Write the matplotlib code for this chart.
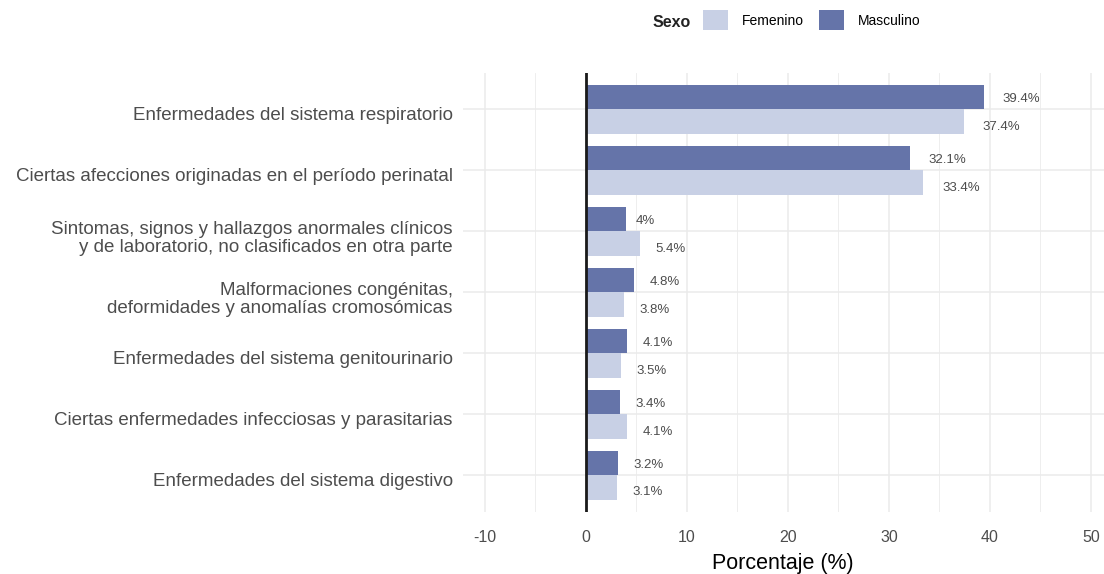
import matplotlib.pyplot as plt
from matplotlib.patches import Patch
import matplotlib.transforms as mtransforms
import numpy as np

plt.rcParams['font.family'] = ['Liberation Sans', 'DejaVu Sans']
plt.rcParams['axes.unicode_minus'] = False

# categories from bottom to top
causas = [
    'Enfermedades del sistema digestivo',
    'Ciertas enfermedades infecciosas y parasitarias',
    'Enfermedades del sistema genitourinario',
    'Malformaciones congénitas,\ndeformidades y anomalías cromosómicas',
    'Sintomas, signos y hallazgos anormales clínicos\ny de laboratorio, no clasificados en otra parte',
    'Ciertas afecciones originadas en el período perinatal',
    'Enfermedades del sistema respiratorio',
]
femenino = [3.1, 4.1, 3.5, 3.8, 5.4, 33.4, 37.4]
masculino = [3.2, 3.4, 4.1, 4.8, 4.0, 32.1, 39.4]

col_fem = '#C8D0E5'
col_mas = '#6574A9'
grid_col = '#EBEBEB'
txt_col = '#4D4D4D'

fig = plt.figure(figsize=(11.04, 5.74), dpi=100)
ax = fig.add_axes([0.419, 0.108, 0.581, 0.765])

y = np.arange(len(causas))
h = 0.4
ax.barh(y + h / 2, masculino, height=h, color=col_mas, zorder=2)
ax.barh(y - h / 2, femenino, height=h, color=col_fem, zorder=2)

def fmt(v):
    return f'{v:g}%'

labels = []
for yi, m, f in zip(y, masculino, femenino):
    labels.append(ax.text(m, yi + h / 2 - 0.03, fmt(m), ha='left', va='center',
                          fontsize=9.5, color=txt_col))
    labels.append(ax.text(f, yi - h / 2 - 0.08, fmt(f), ha='left', va='center',
                          fontsize=9.5, color=txt_col))

ax.axvline(0, color='#1a1a1a', lw=2, zorder=3)

ax.set_xlim(-12.2, 51.3)
ax.set_ylim(-0.6, len(causas) - 0.4)
ax.set_xticks([-10, 0, 10, 20, 30, 40, 50])
ax.set_xticks([-5, 5, 15, 25, 35, 45], minor=True)
ax.set_yticks(y)
ax.set_yticklabels(causas, ha='right', multialignment='right', linespacing=1.1)
ax.grid(which='major', axis='both', color=grid_col, lw=1.1, zorder=0)
ax.grid(which='minor', axis='x', color=grid_col, lw=0.6, zorder=0)
ax.tick_params(which='both', length=0, labelcolor=txt_col)
ax.tick_params(axis='x', labelsize=11.5, pad=13)
ax.tick_params(axis='y', labelsize=13.5, pad=7)
for s in ax.spines.values():
    s.set_visible(False)
ax.set_xlabel('Porcentaje (%)', fontsize=15.5, color='black', labelpad=6)

# y labels sit a little below the category centre
shift = mtransforms.ScaledTranslation(0, -3 / 72, fig.dpi_scale_trans)
for t in ax.get_yticklabels():
    t.set_transform(t.get_transform() + shift)

handles = [Patch(facecolor=col_fem, edgecolor='none', label='Femenino'),
           Patch(facecolor=col_mas, edgecolor='none', label='Masculino')]
fig.legend(handles=handles, ncol=2, loc='center left', bbox_to_anchor=(0.637, 0.965),
           frameon=False, fontsize=10, handlelength=1.8, handleheight=1.75,
           columnspacing=1.1, handletextpad=1.0, borderpad=0, borderaxespad=0)
fig.text(0.591, 0.960, 'Sexo', fontsize=11.5, fontweight='bold', color='#222222',
         va='center', ha='left')

# shift value labels right by half their width (like hjust = -0.5)
fig.canvas.draw()
r = fig.canvas.get_renderer()
for t in labels:
    w = t.get_window_extent(r).width
    t.set_transform(ax.transData + mtransforms.Affine2D().translate(w / 2, 0))

fig.savefig('out.png', dpi=100, facecolor='white')
